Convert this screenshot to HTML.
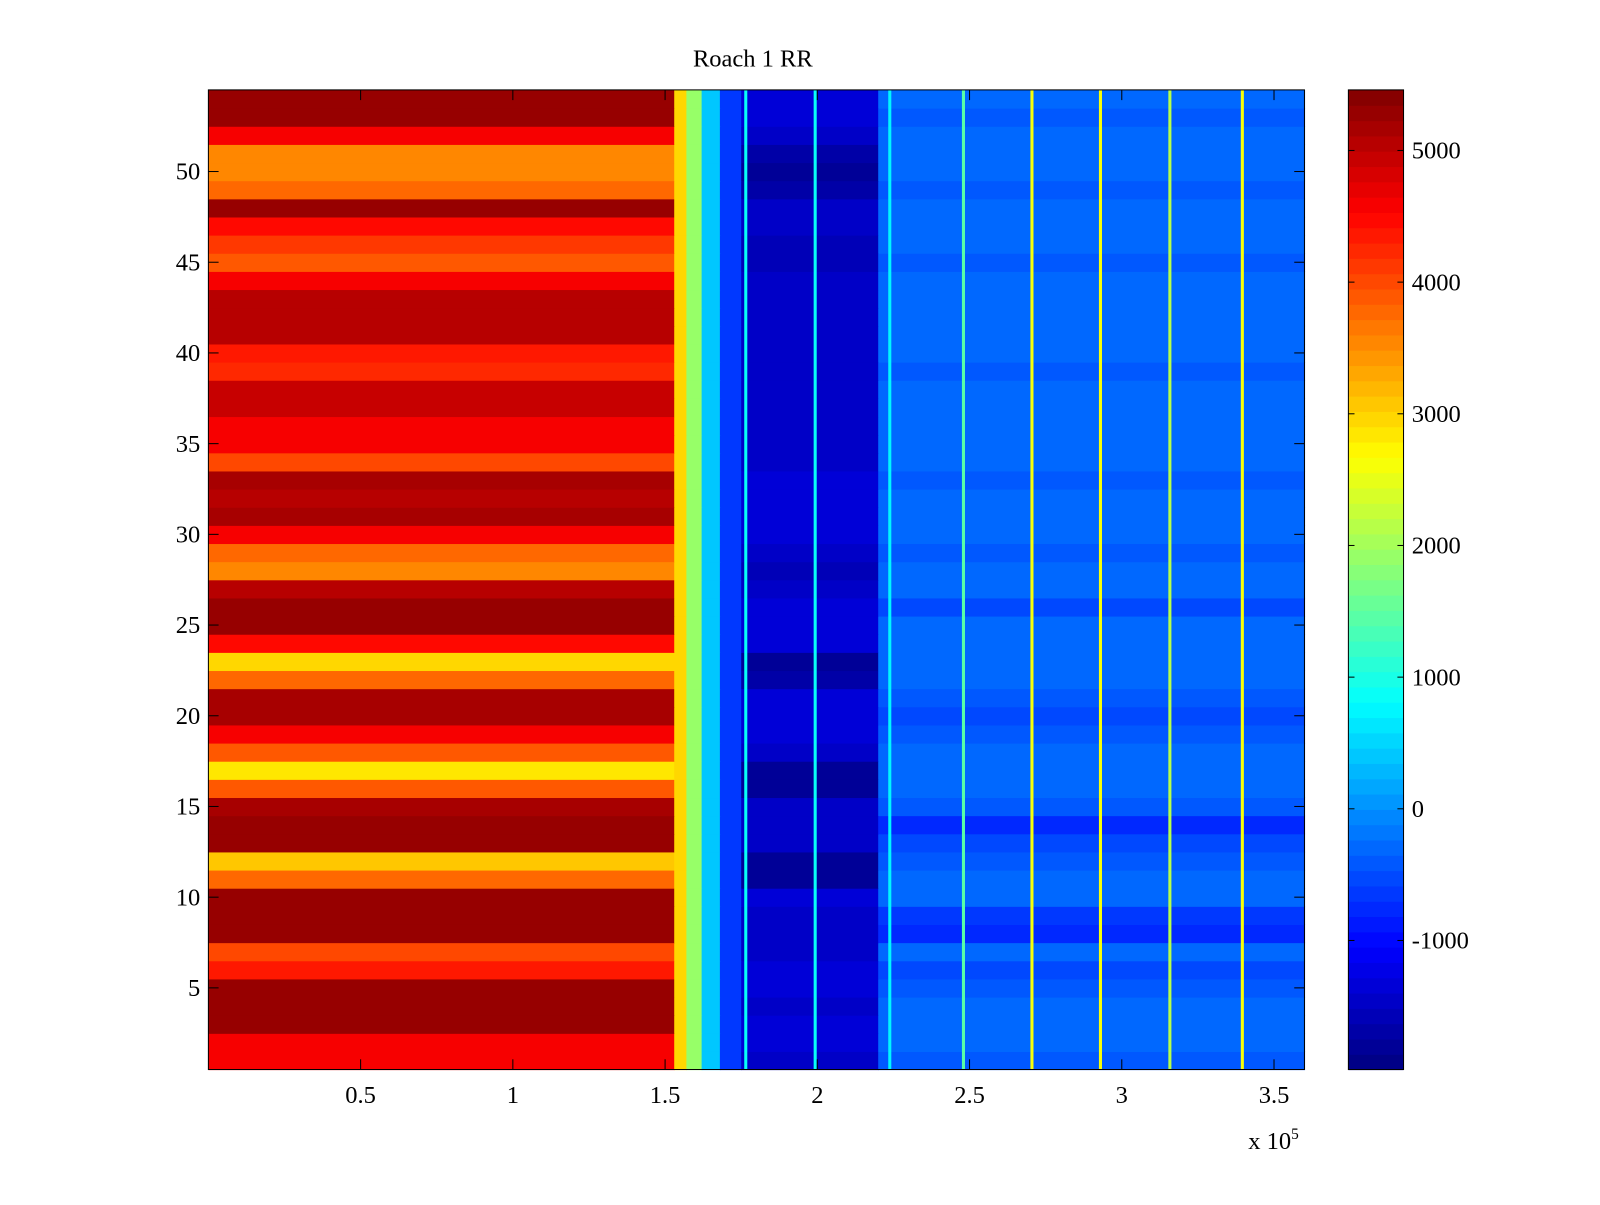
<!DOCTYPE html>
<html><head><meta charset="utf-8"><style>
body{margin:0;background:#fff;}
svg text{font-family:"Liberation Serif",serif;font-size:24px;fill:#000;}
</style></head><body>
<svg id="chart" width="1600" height="1200" xmlns="http://www.w3.org/2000/svg">
<rect width="1600" height="1200" fill="#fff"/>
<g transform="scale(1.0215)">
<text x="737" y="65" text-anchor="middle">Roach 1 RR</text>
<g id="cells"></g>
<g id="axes"></g>
<g id="cbar"></g>
</g>
</svg>
<script>
// ---- data ----
const leftVals=[4600,4600,5300,5300,5300,4300,4000,5300,5300,5300,3800,3100,5300,5300,5200,3900,2900,3900,4600,5200,5200,3800,3000,4500,5300,5300,5000,3600,3800,4600,5200,5100,5200,4000,4600,4600,4900,4900,4200,4300,5000,5000,5000,4600,3900,4100,4500,5300,3800,3600,3600,4600,5300,5300];
const darkVals=[-1500,-1300,-1300,-1400,-1300,-1300,-1400,-1500,-1500,-1300,-1800,-1800,-1500,-1400,-1400,-1800,-1800,-1400,-1300,-1300,-1300,-1700,-1800,-1300,-1300,-1300,-1400,-1600,-1500,-1300,-1300,-1300,-1300,-1500,-1500,-1400,-1500,-1400,-1400,-1500,-1500,-1500,-1500,-1500,-1600,-1600,-1500,-1400,-1700,-1800,-1700,-1400,-1300,-1300];
const rightVals=[-450,-350,-350,-350,-450,-550,-350,-750,-650,-350,-350,-450,-550,-750,-450,-350,-250,-350,-450,-550,-450,-350,-250,-350,-350,-550,-350,-350,-450,-350,-350,-350,-450,-350,-350,-350,-350,-350,-450,-350,-350,-350,-350,-350,-450,-350,-350,-350,-450,-350,-350,-350,-450,-350];
const segEdges=[0,1.53e5,1.57e5,1.62e5,1.68e5,1.75e5,2.2e5,3.6e5];
const transVals=[3000,1900,400,-600];
const lineX=[1.765e5,1.993e5,2.238e5,2.48e5,2.705e5,2.93e5,3.158e5,3.396e5];
const lineVals=[900,900,700,1500,2600,2600,2200,2600];
const xTicks=[0.5,1,1.5,2,2.5,3,3.5];
const yTicks=[5,10,15,20,25,30,35,40,45,50];
const cTicks=[5000,4000,3000,2000,1000,0,-1000];
const cMin=-1980,cMax=5460;
// ---- geometry ----
const X0=204,X1=1277,Y0=88,Y1=1047;
const xs=v=>X0+(v/3.6e5)*(X1-X0);
const ys=r=>Y1-(r-0.5)/54*(Y1-Y0);
const NS='http://www.w3.org/2000/svg';
function jet(v){let t=(v-cMin)/(cMax-cMin);t=Math.max(0,Math.min(1,t));t=(Math.floor(t*63.999)+0.5)/64;
 const c=x=>Math.round(255*Math.max(0,Math.min(1,x)));
 return `rgb(${c(1.5-Math.abs(4*t-3))},${c(1.5-Math.abs(4*t-2))},${c(1.5-Math.abs(4*t-1))})`;}
function mk(tag,attrs,parent){const e=document.createElementNS(NS,tag);for(const k in attrs)e.setAttribute(k,attrs[k]);parent.appendChild(e);return e;}
const cells=document.getElementById('cells');
for(let i=0;i<leftVals.length;i++){
 const r=i+1,yt=ys(r+0.5),yb=ys(r-0.5);
 const vals=[leftVals[i],...transVals,darkVals[i],rightVals[i]];
 for(let s=0;s<vals.length;s++){
  const e=mk('rect',{x:xs(segEdges[s]),y:yt,width:xs(segEdges[s+1])-xs(segEdges[s])+0.6,height:yb-yt+0.6,fill:jet(vals[s])},cells);
  
  
 }
}
for(let j=0;j<lineX.length;j++){
 const e=mk('rect',{x:xs(lineX[j])-1.5,y:Y0,width:3,height:Y1-Y0,fill:jet(lineVals[j])},cells);
 
 
}
const ax=document.getElementById('axes');
mk('rect',{x:X0,y:Y0,width:X1-X0,height:Y1-Y0,fill:'none',stroke:'#000','stroke-width':1},ax);
xTicks.forEach(t=>{const x=xs(t*1e5);
 mk('line',{x1:x,x2:x,y1:Y1,y2:Y1-10,stroke:'#000'},ax);mk('line',{x1:x,x2:x,y1:Y0,y2:Y0+10,stroke:'#000'},ax);
 const e=mk('text',{x:x,y:1080,'text-anchor':'middle'},ax);e.textContent=String(t);
 
 });
yTicks.forEach(t=>{const y=ys(t);
 mk('line',{x1:X0,x2:X0+10,y1:y,y2:y,stroke:'#000'},ax);mk('line',{x1:X1,x2:X1-10,y1:y,y2:y,stroke:'#000'},ax);
 const e=mk('text',{x:196,y:y+8,'text-anchor':'end'},ax);e.textContent=String(t);
 
 });
const ex=mk('text',{x:1222,y:1125},ax);ex.innerHTML='x 10<tspan dy="-10" font-size="15">5</tspan>';


// colorbar
const cb=document.getElementById('cbar');const CX0=1320,CX1=1374;
const cy=v=>Y1-(v-cMin)/(cMax-cMin)*(Y1-Y0);
for(let k=0;k<64;k++){const v0=cMin+(cMax-cMin)*k/64,v1=cMin+(cMax-cMin)*(k+1)/64;
 const e=mk('rect',{x:CX0,y:cy(v1),width:CX1-CX0,height:cy(v0)-cy(v1)+0.6,fill:jet((v0+v1)/2)},cb);
 
 }
mk('rect',{x:CX0,y:Y0,width:CX1-CX0,height:Y1-Y0,fill:'none',stroke:'#000'},cb);
cTicks.forEach(t=>{const y=cy(t);
 mk('line',{x1:CX0,x2:CX0+6,y1:y,y2:y,stroke:'#000'},cb);mk('line',{x1:CX1,x2:CX1-6,y1:y,y2:y,stroke:'#000'},cb);
 const e=mk('text',{x:1382,y:y+8},cb);e.textContent=String(t);
 
 });
</script>
</body></html>
